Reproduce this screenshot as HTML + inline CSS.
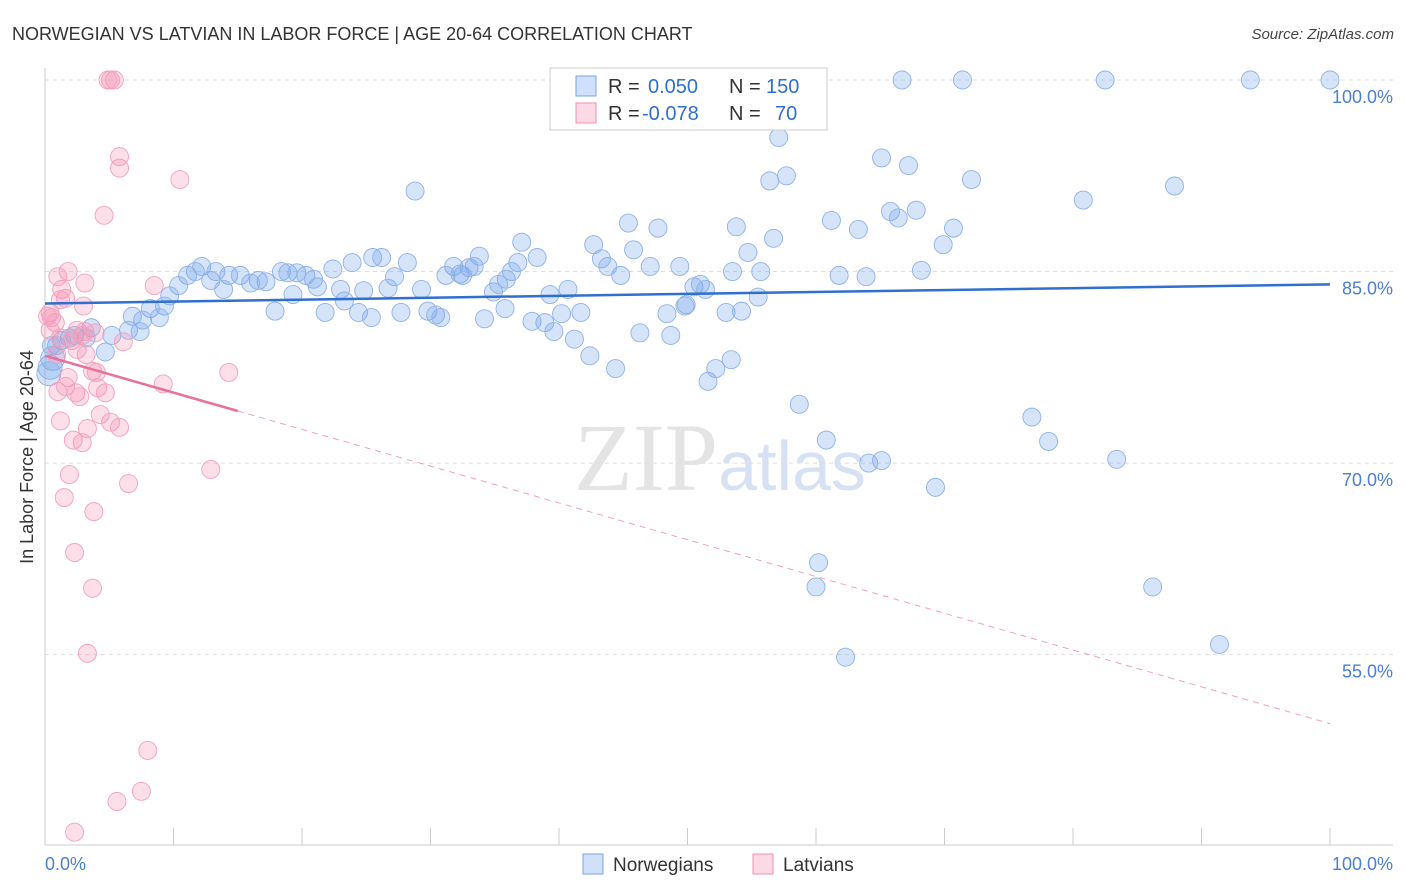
<!DOCTYPE html>
<html><head><meta charset="utf-8">
<style>
body{margin:0;background:#fff;font-family:"Liberation Sans",sans-serif;}
#wrap{position:relative;width:1406px;height:892px;overflow:hidden;}
</style></head>
<body>
<div id="wrap">
<svg id="svg" width="1406" height="892" xmlns="http://www.w3.org/2000/svg">
<text x="12" y="40" font-size="18" fill="#333">NORWEGIAN VS LATVIAN IN LABOR FORCE | AGE 20-64 CORRELATION CHART</text>
<text x="1394" y="39" font-size="15" fill="#444" font-style="italic" text-anchor="end">Source: ZipAtlas.com</text>
<text x="720" y="490" font-size="96" fill="#e4e4e4" text-anchor="middle" font-family="Liberation Serif">ZIP<tspan fill="#d6e2f4" font-family="Liberation Sans" font-size="70">atlas</tspan></text>
<g id="grid"></g>
<g id="axes"></g>
<g id="pts"></g>
<g id="trend"></g>
<text transform="translate(33,457) rotate(-90)" font-size="18" fill="#333" text-anchor="middle">In Labor Force | Age 20-64</text>
<g>
<rect x="550" y="68" width="277" height="62" fill="#fff" stroke="#ccc"/>
<rect x="576" y="76" width="20" height="20" fill="rgba(120,165,235,0.35)" stroke="#7aa3e0"/>
<rect x="576" y="103" width="20" height="20" fill="rgba(245,150,180,0.35)" stroke="#f08fb0"/>
<text x="608" y="93" font-size="20" fill="#333">R = <tspan fill="#2f6fd0" x="648">0.050</tspan><tspan x="729" fill="#333">N = </tspan><tspan fill="#2f6fd0" x="766">150</tspan></text>
<text x="608" y="120" font-size="20" fill="#333">R = <tspan fill="#2f6fd0" x="642">-0.078</tspan><tspan x="729" fill="#333">N = </tspan><tspan fill="#2f6fd0" x="775">70</tspan></text>
</g>
<g>
<rect x="583" y="854" width="20" height="20" fill="rgba(120,165,235,0.35)" stroke="#7aa3e0"/>
<text x="613" y="871" font-size="19" fill="#333">Norwegians</text>
<rect x="753" y="854" width="20" height="20" fill="rgba(245,150,180,0.35)" stroke="#f08fb0"/>
<text x="783" y="871" font-size="19" fill="#333">Latvians</text>
</g>
</svg>
</div>
<script>
const yTicks=[100,85,70,55];
const yTickLabels=["100.0%","85.0%","70.0%","55.0%"];
const xTicks=[0,10,20,30,40,50,60,70,80,90,100];
const blueX=[66.7,71.4,82.5,93.8,100,57.1,65.1,67.2,57.7,56.4,72.1,87.9,28.8,80.8,65.8,67.8,66.4,45.4,47.7,53.8,61.2,63.3,70.7,56.7,37.1,42.7,69.9,45.8,54.7,33.8,38.3,25.5,26.2,23.9,28.2,43.3,47.1,43.8,49.4,31.8,32.3,33.0,33.4,36.8,36.3,22.4,18.4,12.2,13.3,11.7,11.1,14.3,15.2,16.6,17.2,18.9,19.6,20.3,20.9,27.2,31.2,32.5,35.9,44.8,53.5,55.7,61.8,63.9,68.2,10.4,9.7,12.9,13.9,16.0,19.3,21.2,23.0,23.3,24.8,26.7,29.3,34.9,35.3,39.3,40.7,50.5,51.0,51.4,49.9,55.5,8.2,9.3,6.8,7.6,8.9,17.9,21.8,24.4,25.4,27.7,29.8,30.4,30.8,34.2,35.8,37.9,38.9,40.2,41.7,39.6,41.2,48.4,49.8,53.0,54.2,46.3,48.7,3.6,2.3,1.9,3.2,1.3,0.9,0.5,5.2,6.5,7.4,4.7,42.4,44.4,51.6,52.2,53.4,58.7,76.8,78.1,60.8,65.1,64.1,83.4,69.3,60.2,60.0,86.2,62.3,91.4,0.4,0.6,0.3];
const blueY=[100,100,100,100,100,95.5,93.9,93.3,92.5,92.1,92.2,91.7,91.3,90.6,89.7,89.8,89.2,88.8,88.4,88.5,89.0,88.3,88.4,87.6,87.3,87.1,87.1,86.7,86.5,86.2,86.1,86.1,86.1,85.7,85.7,86.0,85.4,85.4,85.4,85.4,84.8,85.3,85.4,85.7,85.0,85.2,85.0,85.4,85.0,85.0,84.7,84.7,84.7,84.3,84.2,84.9,84.9,84.7,84.4,84.6,84.7,84.7,84.4,84.7,85.0,85.0,84.7,84.6,85.1,83.9,83.1,84.3,83.6,84.1,83.2,83.8,83.6,82.7,83.5,83.7,83.6,83.4,84.0,83.2,83.6,83.8,84.0,83.6,82.4,83.0,82.1,82.3,81.5,81.2,81.4,81.9,81.8,81.8,81.4,81.8,81.9,81.6,81.4,81.3,82.1,81.1,81.0,81.7,81.8,80.3,79.7,81.7,82.3,81.8,81.9,80.2,80.0,80.6,80.0,79.8,79.8,79.6,79.2,79.2,80.0,80.4,80.3,78.7,78.4,77.4,76.4,77.4,78.1,74.6,73.6,71.7,71.8,70.2,70.0,70.3,68.1,62.2,60.3,60.3,54.8,55.8,77.5,78.2,77.0];
const pinkX=[5.1,5.4,4.9,5.8,5.8,10.5,4.6,1.8,1.0,3.1,8.5,1.3,1.6,1.2,3.0,0.4,0.5,0.8,0.2,0.4,2.5,3.1,3.9,2.9,1.2,2.1,6.1,2.5,3.2,0.9,1.8,3.7,4.0,1.6,4.1,4.7,9.2,14.3,1.0,2.4,2.7,4.3,5.1,5.8,1.2,3.3,2.2,2.9,1.9,12.9,6.5,1.5,3.8,2.3,3.7,3.3,8.0,7.5,5.6,2.3];
const pinkY=[100,100,100,94.0,93.1,92.2,89.4,85.0,84.6,84.1,83.9,83.6,82.9,82.8,82.3,81.8,81.4,81.0,81.5,80.4,80.4,80.3,80.2,80.0,79.8,79.6,79.5,78.9,78.5,78.5,76.7,77.2,77.1,76.0,75.9,75.5,76.2,77.1,75.6,75.5,75.2,73.8,73.2,72.8,73.3,72.7,71.8,71.6,69.1,69.5,68.4,67.3,66.2,63.0,60.2,55.1,47.5,44.3,43.5,41.1];
const blueTrend=[82.5,84.0];
const pinkTrend=[78.4,49.6];
const pinkSolidEnd=15;

const NS="http://www.w3.org/2000/svg";
const X=v=>45+v*12.85;
const Y=v=>80+(100-v)*12.77;
function mk(tag,attrs,parent){const e=document.createElementNS(NS,tag);for(const k in attrs)e.setAttribute(k,attrs[k]);document.getElementById(parent).appendChild(e);return e;}
yTicks.forEach((t,i)=>{
  const l=mk('line',{x1:45,x2:1393,y1:Y(t),y2:Y(t),stroke:'#ddd','stroke-dasharray':'4,4'},'grid');
  
  
  const tx=mk('text',{x:1393,y:Y(t)+23,'font-size':18,fill:'#4a7fd0','text-anchor':'end'},'axes');
  tx.textContent=yTickLabels[i];
  
  
});
const ax=mk('line',{x1:45,x2:45,y1:68,y2:845,stroke:'#ccc'},'axes');


const bx=mk('line',{x1:45,x2:1393,y1:845,y2:845,stroke:'#ccc'},'axes');


xTicks.forEach(t=>{
  const l=mk('line',{x1:X(t),x2:X(t),y1:828,y2:845,stroke:'#ccc'},'axes');
  
  
});
const x0=mk('text',{x:45,y:870,'font-size':18,fill:'#4a7fd0'},'axes');x0.textContent='0.0%';


const x1=mk('text',{x:1393,y:870,'font-size':18,fill:'#4a7fd0','text-anchor':'end'},'axes');x1.textContent='100.0%';


blueX.forEach((v,i)=>{
  const c=mk('circle',{cx:X(v),cy:Y(blueY[i]),r:(i>=blueX.length-3?12:9),fill:'rgba(120,165,235,0.3)',stroke:'#8fb2e6','stroke-width':0.9},'pts');
  
  
});
pinkX.forEach((v,i)=>{
  const c=mk('circle',{cx:X(v),cy:Y(pinkY[i]),r:9,fill:'rgba(245,150,180,0.3)',stroke:'#f3a0bd','stroke-width':0.9},'pts');
  
  
});
const bt=mk('line',{x1:X(0),y1:Y(blueTrend[0]),x2:X(100),y2:Y(blueTrend[1]),stroke:'#2f6fd0','stroke-width':2.5},'trend');


const pv=x=>pinkTrend[0]+(pinkTrend[1]-pinkTrend[0])*x/100;
const ps=mk('line',{x1:X(0),y1:Y(pv(0)),x2:X(pinkSolidEnd),y2:Y(pv(pinkSolidEnd)),stroke:'#e8709a','stroke-width':2.5},'trend');


const pd=mk('line',{x1:X(pinkSolidEnd),y1:Y(pv(pinkSolidEnd)),x2:X(100),y2:Y(pv(100)),stroke:'#f0a0bb','stroke-width':1,'stroke-dasharray':'6,5'},'trend');


</script>
</body></html>
